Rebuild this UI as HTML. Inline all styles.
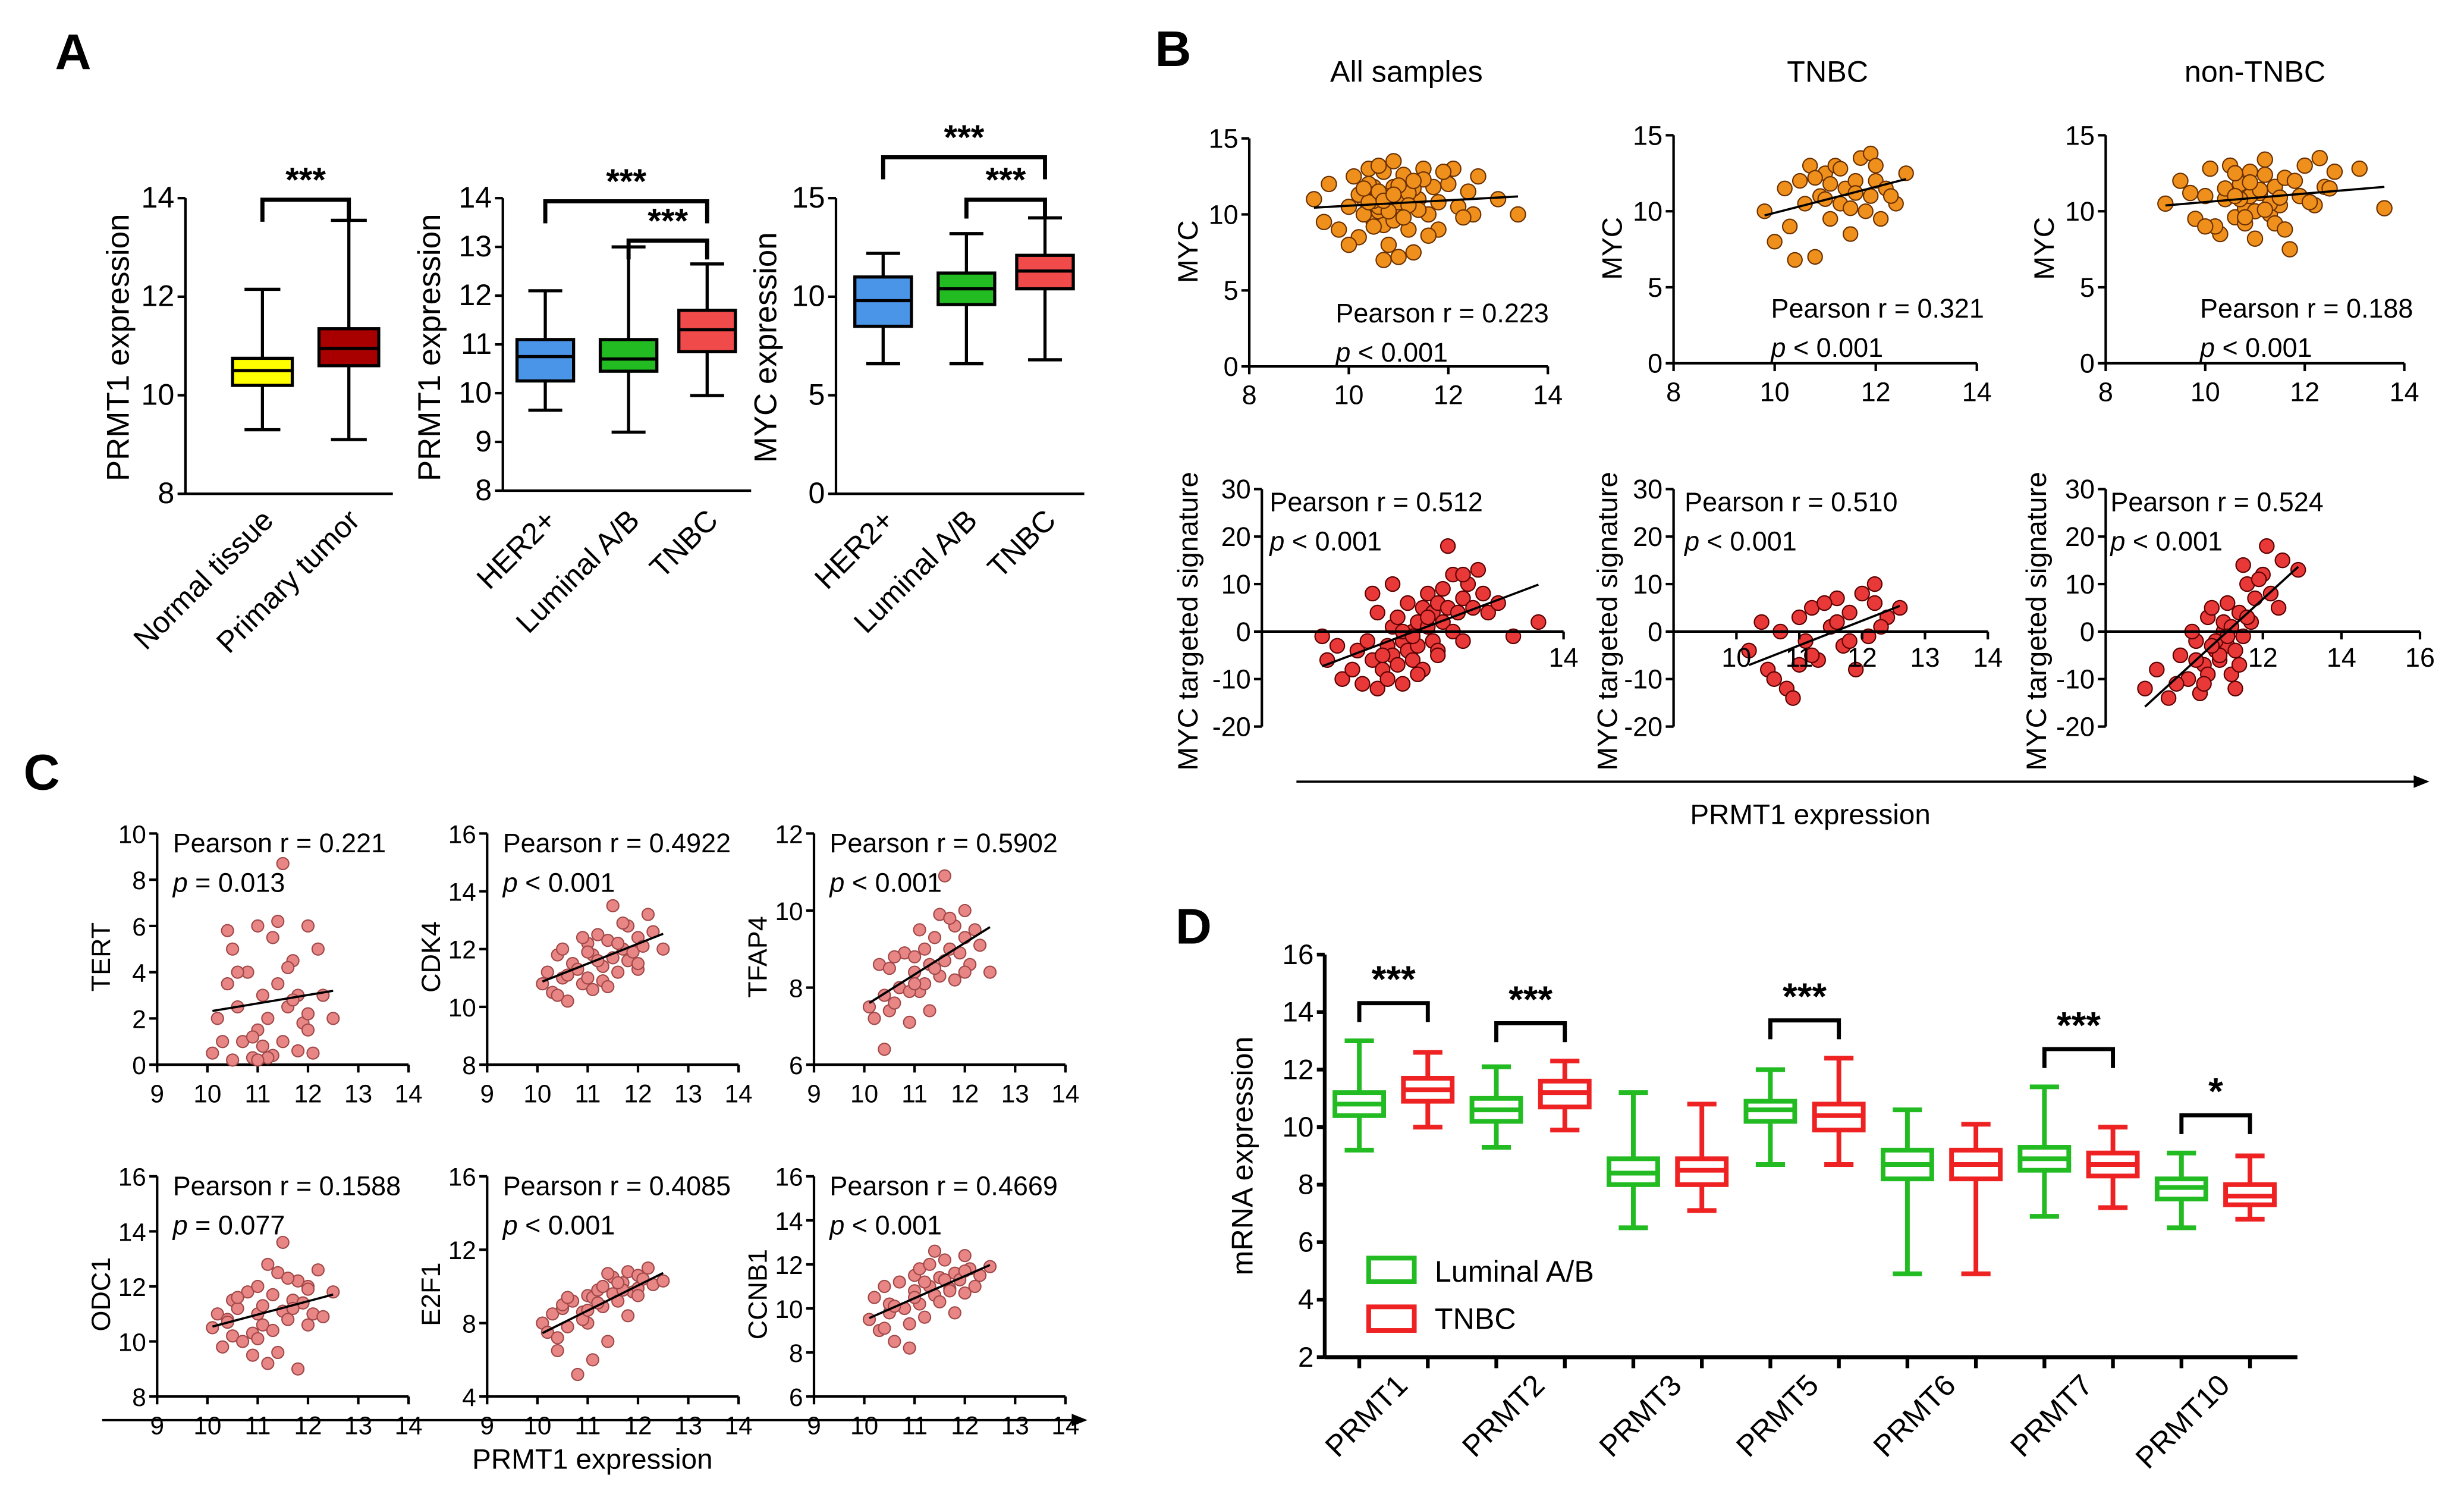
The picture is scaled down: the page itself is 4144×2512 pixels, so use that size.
<!DOCTYPE html>
<html><head><meta charset="utf-8">
<style>
html,body{margin:0;padding:0;background:#fff;}
svg{display:block;font-family:"Liberation Sans",Arial,sans-serif;}
</style></head>
<body>
<svg id="fig" xmlns="http://www.w3.org/2000/svg" width="4144" height="2512" viewBox="0 0 1568 950" preserveAspectRatio="none">
<rect x="0" y="0" width="1568" height="950" fill="#fff"/>
</svg>
<script>
// ---------- DATA ----------
const a1Cats = ["Normal tissue","Primary tumor"];
const a1Stats = [[9.3,10.2,10.5,10.75,12.15],[9.1,10.6,10.95,11.35,13.55]];
const a2Cats = ["HER2+","Luminal A/B","TNBC"];
const a2Stats = [[9.65,10.25,10.75,11.1,12.1],[9.2,10.45,10.7,11.1,13.0],[9.95,10.85,11.3,11.7,12.65]];
const a3Cats = ["HER2+","Luminal A/B","TNBC"];
const a3Stats = [[6.6,8.5,9.8,11.0,12.2],[6.6,9.6,10.4,11.2,13.2],[6.8,10.4,11.3,12.1,14.0]];
const a1Ticks = [8,10,12,14];
const a2Ticks = [8,9,10,11,12,13,14];
const a3Ticks = [0,5,10,15];
const bTopXTicks = [8,10,12,14];
const bTopYTicks = [0,5,10,15];
const bAllTopX = [9.3,9.6,9.8,10,10.1,10.2,10.3,10.4,10.5,10.5,10.6,10.7,10.8,10.8,10.9,11,11,11.1,11.2,11.3,11.4,11.5,11.6,11.7,11.8,12,12.2,12.4,12.6,13,9.5,10,10.3,10.6,10.9,11.2,11.5,11.8,12.1,12.5,10.2,10.7,11.1,11.6,10.4,10.9,11.3,11.9,12.3,13.4,10.6,10.8,11,11.2,10.5,10.9,11.4,11.0,10.7,11.3,10.4,10.6,10.8,11.0,11.2,10.5,10.7,10.9,11.1,10.3];
const bAllTopY = [11,12,9,10.5,12.5,8.5,11,13,9.5,11.8,10.2,12.8,8,11,13.5,9.8,11.5,10.5,12,7.5,11,13,10,11.8,9,12,10.5,11.5,12.5,11,9.5,8,10,13.2,11.8,9,12.3,10.8,13,10,11.3,9.3,12.6,8.6,12,10.2,11.7,12.8,9.8,10,10.5,11.2,10.8,11.4,10.9,9.6,10.3,7.2,7.0,12.2,10.8,11.5,10.2,11.9,10.6,9.2,10.9,11.3,9.8,11.7];
const bTnbcTopX = [9.8,10,10.2,10.3,10.5,10.6,10.8,10.9,11,11.1,11.2,11.3,11.4,11.5,11.6,11.7,11.8,11.9,12,12.1,12.2,12.4,12.6,10.4,10.7,11,11.3,11.6,11.9,12.3,11.1,11.5,10.8,12.0];
const bTnbcTopY = [10,8,11.5,9,12,10.5,7,11,12.5,9.5,13,10.5,11.5,8.5,12,13.5,10,11,12,9.5,11.5,10.5,12.5,6.8,13,10.8,12.8,11.2,13.8,11,11.8,10.2,12.2,13.0];
const bNonTopX = [9.2,9.5,9.8,10,10.1,10.3,10.4,10.5,10.6,10.7,10.8,10.9,11,11.1,11.2,11.3,11.4,11.5,11.6,11.7,11.9,12,12.2,12.4,12.6,13.1,13.6,9.7,10.2,10.6,11,11.4,11.8,12.1,12.5,10.4,10.8,11.2,11.6,10.9,11.3,10.7,11.1,12.3,10.0,10.6,10.9,11.2,11.5,10.8];
const bNonTopY = [10.5,12,9.5,11,12.8,8.5,10.8,13,9.6,11.8,10.2,12.6,8.2,11.2,13.4,9.8,11.6,10.4,12.2,7.5,11,13,10.4,11.6,12.6,12.8,10.2,11.2,9,12.5,10,9.2,12,10.6,11.5,11.5,9.2,12.4,8.8,11,10.5,10.8,11.4,13.5,9.0,11.0,11.9,10.1,10.9,9.6];
const bAllBotX = [9.2,9.3,9.5,9.6,9.8,9.9,10,10.1,10.2,10.3,10.3,10.4,10.5,10.5,10.6,10.6,10.7,10.7,10.8,10.8,10.9,10.9,11,11,11.1,11.1,11.2,11.2,11.3,11.3,11.4,11.4,11.5,11.5,11.6,11.6,11.7,11.8,11.8,11.9,12,12,12.1,12.2,12.3,12.4,12.5,12.7,13.0,13.5,10.4,10.8,11.0,11.3,10.6,11.1,11.5,10.2,12.0,11.7];
const bAllBotY = [-1,-6,-3,-10,-8,-4,-11,-2,-6,-12,4,-8,-3,-10,-5,1,-7,3,-2,-11,-4,6,0,-6,2,-3,5,-8,1,8,-2,4,6,-4,2,9,5,12,0,4,7,-2,10,5,13,8,4,6,-1,2,-5,0,-1,3,10,-9,-5,8,12,18];
const bTnbcBotX = [10.2,10.4,10.5,10.7,10.8,11,11.1,11.2,11.3,11.5,11.6,11.7,11.8,12,12.1,12.2,12.4,12.6,10.9,11.4,11.9,12.3,10.6,11.2,11.6,11.0,11.8,12.2];
const bTnbcBotY = [-4,2,-8,0,-12,3,-2,5,-6,1,7,-3,4,8,-1,10,3,5,-14,6,-8,1,-10,-5,2,-7,-2,6];
const bNonBotX = [9,9.3,9.6,9.9,10.1,10.3,10.5,10.6,10.8,11,11.1,11.2,11.4,11.5,11.6,11.8,12,12.2,12.5,12.9,9.8,10.4,10.9,11.3,11.7,12.1,10.2,10.7,11.1,11.5,11.9,12.4,10.8,11.0,11.3,10.6,11.2,10.9,11.4,10.5,11.1,10.7,11.6,10.3];
const bNonBotY = [-12,-8,-14,-5,-10,-2,-7,3,-4,0,6,-9,4,-1,10,7,12,8,15,13,-11,-13,-6,-12,2,18,0,5,-3,14,11,5,-2,2,-4,-9,1,-5,-7,-11,-1,-3,3,-6];
const bAllBotXTicks = [14];
const bTnbcBotXTicks = [10,11,12,13,14];
const bNonBotXTicks = [12,14,16];
const bBotYTicks = [-20,-10,0,10,20,30];
const cPrmt1 = [10.1,10.2,10.3,10.4,10.5,10.5,10.6,10.7,10.8,10.9,11,11,11.1,11.1,11.2,11.3,11.3,11.4,11.5,11.5,11.6,11.7,11.8,11.8,11.9,12,12,12.1,12.2,12.3,12.5,10.6,10.9,11.2,11.4,11.7,12,10.4,11,11.6];
const cTert = [0.5,2,1,3.5,0.2,5,2.5,1,4,0.3,6,1.5,3,0.8,2,5.5,0.4,3.5,1,8.7,2.5,4.5,0.6,3,1.8,6,2.2,0.5,5,3,2,4,1.2,0.3,6.2,2.8,1.5,5.8,0.2,4.2];
const cCdk4 = [10.8,11.2,10.5,11.8,11,12,10.2,11.5,11.3,10.8,12.2,11,11.8,10.6,12.5,11.4,10.9,12.3,11.7,13.5,11.2,12,11.6,12.8,11.9,12.4,11.3,12.1,13.2,12.6,12,11.1,12.4,11.6,10.7,12.9,11.5,10.4,11.9,12.2];
const cTfap4 = [7.5,7.2,8.6,7.8,7.4,8.5,7.6,8,8.9,7.1,8.4,8.8,7.9,9.5,8.1,8.6,7.4,9.3,8.3,9.9,8.7,9,8.2,9.6,8.9,9.3,10.0,8.6,9.5,9.1,8.4,8.8,7.9,9.0,8.5,9.8,8.4,6.4,8.1,10.9];
const cOdc1 = [10.5,11,9.8,10.8,11.5,10.2,11.2,10,11.8,9.5,11,12,10.6,11.3,9.2,11.7,10.4,12.5,11.1,13.6,10.8,11.5,9,12.2,11.4,10.6,12,11,12.6,10.9,11.8,11.6,10.3,12.8,9.6,11.2,11.9,10.7,10.1,12.3];
const cE2f1 = [8,7.5,8.5,6.5,8.8,9,7.8,9.2,5.2,8.6,9.5,8,9.4,6,9.8,8.9,10,7,9.6,10.5,9.2,10.2,8.4,10.8,9.7,10.6,9.9,10.4,11,10.1,10.3,9.4,8.2,9.1,10.7,9.8,9.5,7.2,8.7,10.2];
const cCcnb1 = [9.5,10.5,9,11,9.8,10.2,8.5,11.2,10,9.3,11.5,10.8,10.2,11.8,9.6,11,12,10.6,11.4,10.3,12.2,10.9,11.6,9.8,11.3,12.4,10.7,11.8,11,11.5,11.9,10.1,8.2,11.2,12.6,10.8,11.7,9.1,10.5,11.3];
const cXTicks = [9,10,11,12,13,14];
const dGenes = ["PRMT1","PRMT2","PRMT3","PRMT5","PRMT6","PRMT7","PRMT10"];
const dLum = [[9.2,10.4,10.8,11.2,13.0],[9.3,10.2,10.6,11.0,12.1],[6.5,8.0,8.4,8.9,11.2],[8.7,10.2,10.6,10.9,12.0],[4.9,8.2,8.7,9.2,10.6],[6.9,8.5,8.9,9.3,11.4],[6.5,7.5,7.9,8.2,9.1]];
const dTnbc = [[10.0,10.9,11.3,11.7,12.6],[9.9,10.7,11.2,11.6,12.3],[7.1,8.0,8.5,8.9,10.8],[8.7,9.9,10.4,10.8,12.4],[4.9,8.2,8.7,9.2,10.1],[7.2,8.3,8.7,9.1,10.0],[6.8,7.3,7.6,8.0,9.0]];
const dSig = ["***","***","","***","","***","*"];
const dYTicks = [2,4,6,8,10,12,14,16];

// ---------- HELPERS ----------
const NS = "http://www.w3.org/2000/svg";
const svg = document.getElementById("fig");
function mk(tag, attrs, parent){ const e=document.createElementNS(NS,tag); for(const k in attrs) e.setAttribute(k,attrs[k]); (parent||svg).appendChild(e); return e; }
function lin(d0,d1,r0,r1){ return v => r0+(v-d0)/(d1-d0)*(r1-r0); }
function txt(s,x,y,size,anchor,parent,extra){ const t=mk("text",Object.assign({x:x,y:y,"font-size":size,"text-anchor":anchor||"start",fill:"#000"},extra||{}),parent); t.textContent=s; return t; }
function grp(name){ const g=mk("g",{}); 
 return g; }
function line(x1,y1,x2,y2,parent,w,col){ return mk("line",{x1:x1,y1:y1,x2:x2,y2:y2,stroke:col||"#000","stroke-width":w||1.6},parent); }
function yAxis(g,x,ys,ticks,size,w){ line(x,ys(ticks[0]),x,ys(ticks[ticks.length-1]),g,w); ticks.forEach(t=>{ line(x-5,ys(t),x,ys(t),g,w); const l=txt(String(t),x-7,ys(t)+6,size||17,"end",g);   }); }
function xAxis(g,y,xs,ticks,x0,x1,labY,size){ line(x0,y,x1,y,g); ticks.forEach(t=>{ line(xs(t),y,xs(t),y+5,g); const l=txt(String(t),xs(t),labY,size||17,"middle",g);   }); }
function vlabel(s,x,y,size,g){ const t=txt(s,x,y,size,"middle",g,{transform:`rotate(-90 ${x} ${y})`});   return t; }
function box(g,cx,w,st,ys,fill,stroke,sw){
  const b=mk("g",{},g);  
  line(cx,ys(st[0]),cx,ys(st[1]),b,sw,stroke); line(cx,ys(st[3]),cx,ys(st[4]),b,sw,stroke);
  line(cx-w*0.3,ys(st[0]),cx+w*0.3,ys(st[0]),b,sw,stroke); line(cx-w*0.3,ys(st[4]),cx+w*0.3,ys(st[4]),b,sw,stroke);
  mk("rect",{x:cx-w/2,y:ys(st[3]),width:w,height:ys(st[1])-ys(st[3]),fill:fill,stroke:stroke,"stroke-width":sw},b);
  line(cx-w/2,ys(st[2]),cx+w/2,ys(st[2]),b,sw,stroke);
}
function bracket(g,x1,x2,y,drop,label,size,sy){ const p=mk("path",{d:`M${x1} ${y+drop}V${y}H${x2}V${y+drop}`,fill:"none",stroke:"#000","stroke-width":2.6},g);   const t=txt(label,(x1+x2)/2,y-(sy||5),size||22,"middle",g,{"font-weight":"bold"});   }
function rotLabel(s,x,y,size,g){ const t=txt(s,x,y,size,"end",g,{transform:`rotate(-45 ${x} ${y})`});   }
function scatter(g,xs,ys,X,Y,r,fill,stroke){
  for(let i=0;i<X.length;i++){ const c=mk("circle",{cx:xs(X[i]),cy:ys(Y[i]),r:r,fill:fill,stroke:stroke,"stroke-width":0.8},g);   }
  const n=X.length, mx=X.reduce((a,b)=>a+b)/n, my=Y.reduce((a,b)=>a+b)/n; let sxy=0,sxx=0;
  for(let i=0;i<n;i++){ sxy+=(X[i]-mx)*(Y[i]-my); sxx+=(X[i]-mx)**2; }
  const sl=sxy/sxx, lo=Math.min(...X), hi=Math.max(...X);
  const l=line(xs(lo),ys(my+sl*(lo-mx)),xs(hi),ys(my+sl*(hi-mx)),g,1.4);  
}
function pearson(g,x,y,r,size){ const t1=txt("Pearson r = "+r,x,y,size||17,"start",g);  
  const t2=mk("text",{x:x,y:y+25,"font-size":size||17},g);  
  const i=mk("tspan",{"font-style":"italic"},t2); i.textContent="p"; const s=mk("tspan",{},t2); s.textContent=" < 0.001"; return t2; }
function panelLetter(s,x,y){ const t=txt(s,x,y,32,"start",svg,{"font-weight":"bold"});   }

// ---------- PANEL A ----------
panelLetter("A",35,44);
{ const g=grp("chart-a1"); const ys=lin(8,14,314,126); yAxis(g,118,ys,a1Ticks,19); line(118,314,250,314,g);
  vlabel("PRMT1 expression",82,221,20,g);
  const cx=[167,222], fills=["#ffff00","#a80000"];
  a1Stats.forEach((s,i)=>box(g,cx[i],38,s,ys,fills[i],"#000",2));
  bracket(g,167,222,127,14,"***");
  a1Cats.forEach((c,i)=>rotLabel(c,cx[i]+8,332,19,g)); }
{ const g=grp("chart-a2"); const ys=lin(8,14,312,126); yAxis(g,320,ys,a2Ticks,19); line(320,312,478,312,g);
  vlabel("PRMT1 expression",280,221,20,g);
  const cx=[347,400,450], fills=["#4a95e8","#22bb22","#f04a4a"];
  a2Stats.forEach((s,i)=>box(g,cx[i],36,s,ys,fills[i],"#000",2));
  bracket(g,347,450,128,14,"***"); bracket(g,400,450,153,12,"***");
  a2Cats.forEach((c,i)=>rotLabel(c,cx[i]+8,332,19,g)); }
{ const g=grp("chart-a3"); const ys=lin(0,15,314,126); yAxis(g,532,ys,a3Ticks,19); line(532,314,690,314,g);
  vlabel("MYC expression",494,221,20,g);
  const cx=[562,615,665], fills=["#4a95e8","#22bb22","#f04a4a"];
  a3Stats.forEach((s,i)=>box(g,cx[i],36,s,ys,fills[i],"#000",2));
  bracket(g,562,665,100,14,"***"); bracket(g,615,665,127,12,"***");
  a3Cats.forEach((c,i)=>rotLabel(c,cx[i]+8,332,19,g)); }

// ---------- PANEL B ----------
panelLetter("B",735,42);
[["All samples",895],["TNBC",1163],["non-TNBC",1435]].forEach(([s,x])=>{ const t=txt(s,x,52,19,"middle");   });
const OR="#f0901c", ORS="#6a3000", RD="#e83838", RDS="#5a0000";
{ const g=grp("chart-b-all-myc"); const xs=lin(8,14,795,985), ys=lin(0,15,233,88);
  yAxis(g,795,ys,bTopYTicks,17); xAxis(g,233,xs,bTopXTicks,795,985,257,17); vlabel("MYC",762,160,18,g);
  scatter(g,xs,ys,bAllTopX,bAllTopY,4.8,OR,ORS); pearson(g,850,205,"0.223"); }
{ const g=grp("chart-b-tnbc-myc"); const xs=lin(8,14,1065,1258), ys=lin(0,15,231,86);
  yAxis(g,1065,ys,bTopYTicks,17); xAxis(g,231,xs,bTopXTicks,1065,1258,255,17); vlabel("MYC",1032,158,18,g);
  scatter(g,xs,ys,bTnbcTopX,bTnbcTopY,4.6,OR,ORS); pearson(g,1127,202,"0.321"); }
{ const g=grp("chart-b-non-myc"); const xs=lin(8,14,1340,1530), ys=lin(0,15,231,86);
  yAxis(g,1340,ys,bTopYTicks,17); xAxis(g,231,xs,bTopXTicks,1340,1530,255,17); vlabel("MYC",1307,158,18,g);
  scatter(g,xs,ys,bNonTopX,bNonTopY,4.8,OR,ORS); pearson(g,1400,202,"0.188"); }
{ const g=grp("chart-b-all-sig"); const xs=lin(8,14,803,995), ys=lin(-20,30,462,311);
  yAxis(g,803,ys,bBotYTicks,17); scatter(g,xs,ys,bAllBotX,bAllBotY,4.6,RD,RDS); xAxis(g,ys(0),xs,bAllBotXTicks,803,995,424,17);
  vlabel("MYC targeted signature",762,395,18,g); pearson(g,808,325,"0.512"); }
{ const g=grp("chart-b-tnbc-sig"); const xs=lin(9,14,1065,1265), ys=lin(-20,30,462,311);
  yAxis(g,1065,ys,bBotYTicks,17); scatter(g,xs,ys,bTnbcBotX,bTnbcBotY,4.6,RD,RDS); xAxis(g,ys(0),xs,bTnbcBotXTicks,1065,1265,424,17);
  vlabel("MYC targeted signature",1029,395,18,g); pearson(g,1072,325,"0.510"); }
{ const g=grp("chart-b-non-sig"); const xs=lin(8,16,1340,1540), ys=lin(-20,30,462,311);
  yAxis(g,1340,ys,bBotYTicks,17); scatter(g,xs,ys,bNonBotX,bNonBotY,4.6,RD,RDS); xAxis(g,ys(0),xs,bNonBotXTicks,1340,1540,424,17);
  vlabel("MYC targeted signature",1302,395,18,g); pearson(g,1343,325,"0.524"); }
{ const g=grp("b-x-arrow"); line(825,497,1538,497,g,1.4); mk("path",{d:"M1546 497 L1536 493 L1536 501 Z",fill:"#000"},g);
  const t=txt("PRMT1 expression",1152,524,18,"middle",g);   }

// ---------- PANEL C ----------
panelLetter("C",15,502);
const PK="#e88585", PKS="#a04848";
const cPanels=[
 ["TERT",cTert,[0,2,4,6,8,10],100,530,677,"0.221","= 0.013"],
 ["CDK4",cCdk4,[8,10,12,14,16],310,530,677,"0.4922","< 0.001"],
 ["TFAP4",cTfap4,[6,8,10,12],518,530,677,"0.5902","< 0.001"],
 ["ODC1",cOdc1,[8,10,12,14,16],100,748,888,"0.1588","= 0.077"],
 ["E2F1",cE2f1,[4,8,12,16],310,748,888,"0.4085","< 0.001"],
 ["CCNB1",cCcnb1,[6,8,10,12,14,16],518,748,888,"0.4669","< 0.001"]];
cPanels.forEach(([name,Y,yt,ax,top,bot,r,p])=>{
  const g=grp("chart-c-"+name.toLowerCase());
  const xs=lin(9,14,ax,ax+160), ys=lin(yt[0],yt[yt.length-1],bot,top);
  yAxis(g,ax,ys,yt,16); xAxis(g,bot,xs,cXTicks,ax,ax+160,bot+24,16);
  vlabel(name,ax-30,(top+bot)/2+5,17,g);
  scatter(g,xs,ys,cPrmt1,Y,3.8,PK,PKS);
  const t1=txt("Pearson r = "+r,ax+10,top+12,17,"start",g);  
  const t2=mk("text",{x:ax+10,y:top+37,"font-size":17},g);  
  const i=mk("tspan",{"font-style":"italic"},t2); i.textContent="p"; const s=mk("tspan",{},t2); s.textContent=" "+p;
});
{ const g=grp("c-x-arrow"); line(65,903,684,903,g,1.4); mk("path",{d:"M692 903 L682 899 L682 907 Z",fill:"#000"},g);
  const t=txt("PRMT1 expression",377,934,18,"middle",g);   }

// ---------- PANEL D ----------
panelLetter("D",748,600);
{ const g=grp("chart-d"); const ys=lin(2,16,863,607);
  yAxis(g,843,ys,dYTicks,18,2.4); line(843,863,1462,863,g,2.6);
  vlabel("mRNA expression",797,735,19,g);
  const bx=k=>865+k*43.6;
  dGenes.forEach((gname,i)=>{
    const c1=bx(2*i), c2=bx(2*i+1), cx=(c1+c2)/2;
    box(g,c1,31,dLum[i],ys,"#fff","#22bb22",3);
    box(g,c2,31,dTnbc[i],ys,"#fff","#ee2222",3);
    if(dSig[i]){ const top=Math.max(dLum[i][4],dTnbc[i][4]); bracket(g,c1,c2,ys(top)-24,12,dSig[i],24,7); }
    line(c1,863,c1,870,g,2.4); line(c2,863,c2,870,g,2.4);
    rotLabel(gname,cx+10,882,19,g);
  });
  const lg=mk("g",{},g);  
  mk("rect",{x:871,y:800,width:29,height:15,fill:"#fff",stroke:"#22bb22","stroke-width":3},lg);
  const l1=txt("Luminal A/B",913,815,19,"start",lg);  
  mk("rect",{x:871,y:831,width:29,height:15,fill:"#fff",stroke:"#ee2222","stroke-width":3},lg);
  const l2=txt("TNBC",913,845,19,"start",lg);  
}
</script>
</body></html>
